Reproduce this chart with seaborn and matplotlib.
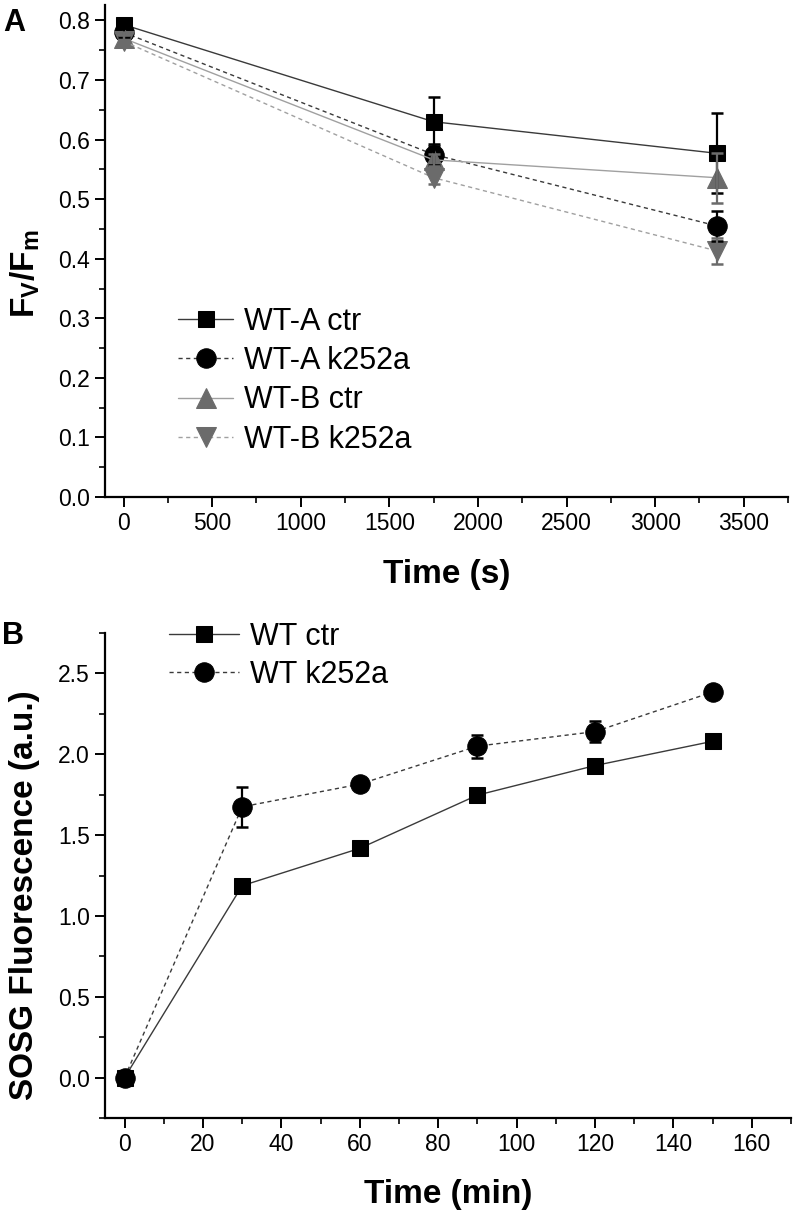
import numpy as np
import pandas as pd
import matplotlib
matplotlib.use("Agg")
import matplotlib.pyplot as plt
from matplotlib.ticker import MultipleLocator, FormatStrFormatter
import seaborn as sns

# -------------------------------
# Data
# -------------------------------
# Panel A: Fv/Fm over time (s)
time_a = [0, 1750, 3350]
wta_ctr = [0.793, 0.630, 0.577]
wta_ctr_err = [0.005, 0.041, 0.067]
wta_k252a = [0.780, 0.575, 0.455]
wta_k252a_err = [0.008, 0.018, 0.025]
wtb_ctr = [0.770, 0.566, 0.536]
wtb_ctr_err = [0.010, 0.010, 0.042]
wtb_k252a = [0.765, 0.536, 0.413]
wtb_k252a_err = [0.010, 0.010, 0.021]

# Panel B: SOSG fluorescence over time (min)
time_b = [0, 30, 60, 90, 120, 150]
wt_ctr = [0.0, 1.187, 1.418, 1.747, 1.930, 2.080]
wt_ctr_err = [0.01, 0.02, 0.02, 0.04, 0.03, 0.02]
wt_k252a = [0.0, 1.675, 1.815, 2.050, 2.140, 2.385]
wt_k252a_err = [0.01, 0.123, 0.02, 0.072, 0.065, 0.02]

# -------------------------------
# Style
# -------------------------------
sns.set_style("ticks")
plt.rcParams["font.family"] = ["Liberation Sans", "DejaVu Sans"]
plt.rcParams["mathtext.fontset"] = "custom"
plt.rcParams["mathtext.bf"] = "Liberation Sans:bold"
plt.rcParams["mathtext.rm"] = "Liberation Sans"
for key in ["text.color", "axes.labelcolor", "xtick.color", "ytick.color", "axes.edgecolor"]:
    plt.rcParams[key] = "black"

BLACK = "#000000"
BLACK_LINE = "#3a3a3a"
GREY = "#6b6b6b"
GREY_LINE = "#a0a0a0"
DASH = (0, (3, 2.5))

fig = plt.figure(figsize=(7.93, 12.11), dpi=100)
W, H = 793, 1211


def px_axes(left, top, right, bottom):
    return fig.add_axes([left / W, 1 - bottom / H, (right - left) / W, (bottom - top) / H])


def style_axes(ax):
    sns.despine(ax=ax)
    for s in ["left", "bottom"]:
        ax.spines[s].set_linewidth(1.6)
    ax.tick_params(which="major", direction="out", length=7, width=1.4, labelsize=16.5, pad=4)
    ax.tick_params(which="minor", direction="out", length=4, width=1.2)


def draw_series(ax, x, y, err, label, color, line_color, ls, marker, ms):
    df = pd.DataFrame({"x": x, "y": y})
    sns.lineplot(data=df, x="x", y="y", ax=ax, color=line_color, linestyle=ls,
                 linewidth=1.0, marker=marker, markersize=ms,
                 markerfacecolor=color, markeredgecolor=color, label=label,
                 zorder=2)
    ax.errorbar(x, y, yerr=err, fmt="none", ecolor=color, elinewidth=1.6,
                capsize=4.5, capthick=1.8, zorder=3)


# -------------------------------
# Panel A
# -------------------------------
ax1 = px_axes(105, 5, 788, 497)
draw_series(ax1, time_a, wta_ctr, wta_ctr_err, "WT-A ctr", BLACK, BLACK_LINE, "-", "s", 12)
draw_series(ax1, time_a, wta_k252a, wta_k252a_err, "WT-A k252a", BLACK, BLACK_LINE, DASH, "o", 14)
draw_series(ax1, time_a, wtb_ctr, wtb_ctr_err, "WT-B ctr", GREY, GREY_LINE, "-", "^", 15)
draw_series(ax1, time_a, wtb_k252a, wtb_k252a_err, "WT-B k252a", GREY, GREY_LINE, DASH, "v", 15)
ax1.set_xlim(-105, 3750)
ax1.set_ylim(0, 0.826)
ax1.xaxis.set_major_locator(MultipleLocator(500))
ax1.xaxis.set_minor_locator(MultipleLocator(250))
ax1.yaxis.set_major_locator(MultipleLocator(0.1))
ax1.yaxis.set_minor_locator(MultipleLocator(0.05))
ax1.yaxis.set_major_formatter(FormatStrFormatter("%.1f"))
style_axes(ax1)
ax1.set_xlabel("Time (s)", fontsize=24, fontweight="bold")
ax1.set_ylabel(r"$\mathbf{F_V/F_m}$", fontsize=24)
ax1.xaxis.set_label_coords(0.5, -0.125)
ax1.yaxis.set_label_coords(-0.092, 0.453)
ax1.legend(loc="upper left", bbox_to_anchor=(178 / W, 1 - 307 / H),
           bbox_transform=fig.transFigure, frameon=False, fontsize=22,
           handlelength=1.8, handletextpad=0.35, labelspacing=0.3,
           borderpad=0, borderaxespad=0, numpoints=1)

# -------------------------------
# Panel B
# -------------------------------
ax2 = px_axes(105, 633, 791, 1118)
draw_series(ax2, time_b, wt_ctr, wt_ctr_err, "WT ctr", BLACK, BLACK_LINE, "-", "s", 12)
draw_series(ax2, time_b, wt_k252a, wt_k252a_err, "WT k252a", BLACK, BLACK_LINE, DASH, "o", 14)
ax2.set_xlim(-5, 170)
ax2.set_ylim(-0.25, 2.75)
ax2.xaxis.set_major_locator(MultipleLocator(20))
ax2.xaxis.set_minor_locator(MultipleLocator(10))
ax2.yaxis.set_major_locator(MultipleLocator(0.5))
ax2.yaxis.set_minor_locator(MultipleLocator(0.25))
ax2.yaxis.set_major_formatter(FormatStrFormatter("%.1f"))
style_axes(ax2)
ax2.set_xlabel("Time (min)", fontsize=24, fontweight="bold")
ax2.set_ylabel("SOSG Fluorescence (a.u.)", fontsize=24, fontweight="bold")
ax2.xaxis.set_label_coords(0.5, -0.125)
ax2.yaxis.set_label_coords(-0.095, 0.46)
ax2.legend(loc="upper left", bbox_to_anchor=(169 / W, 1 - 622 / H),
           bbox_transform=fig.transFigure, frameon=False, fontsize=22,
           handlelength=2.3, handletextpad=0.35, labelspacing=0.25,
           borderpad=0, borderaxespad=0, numpoints=1)

# Panel letters
fig.text(3 / W, 1 - 31 / H, "A", fontsize=22, fontweight="bold", va="baseline")
fig.text(2 / W, 1 - 644 / H, "B", fontsize=22, fontweight="bold", va="baseline")

fig.savefig("out.png", dpi=100)
